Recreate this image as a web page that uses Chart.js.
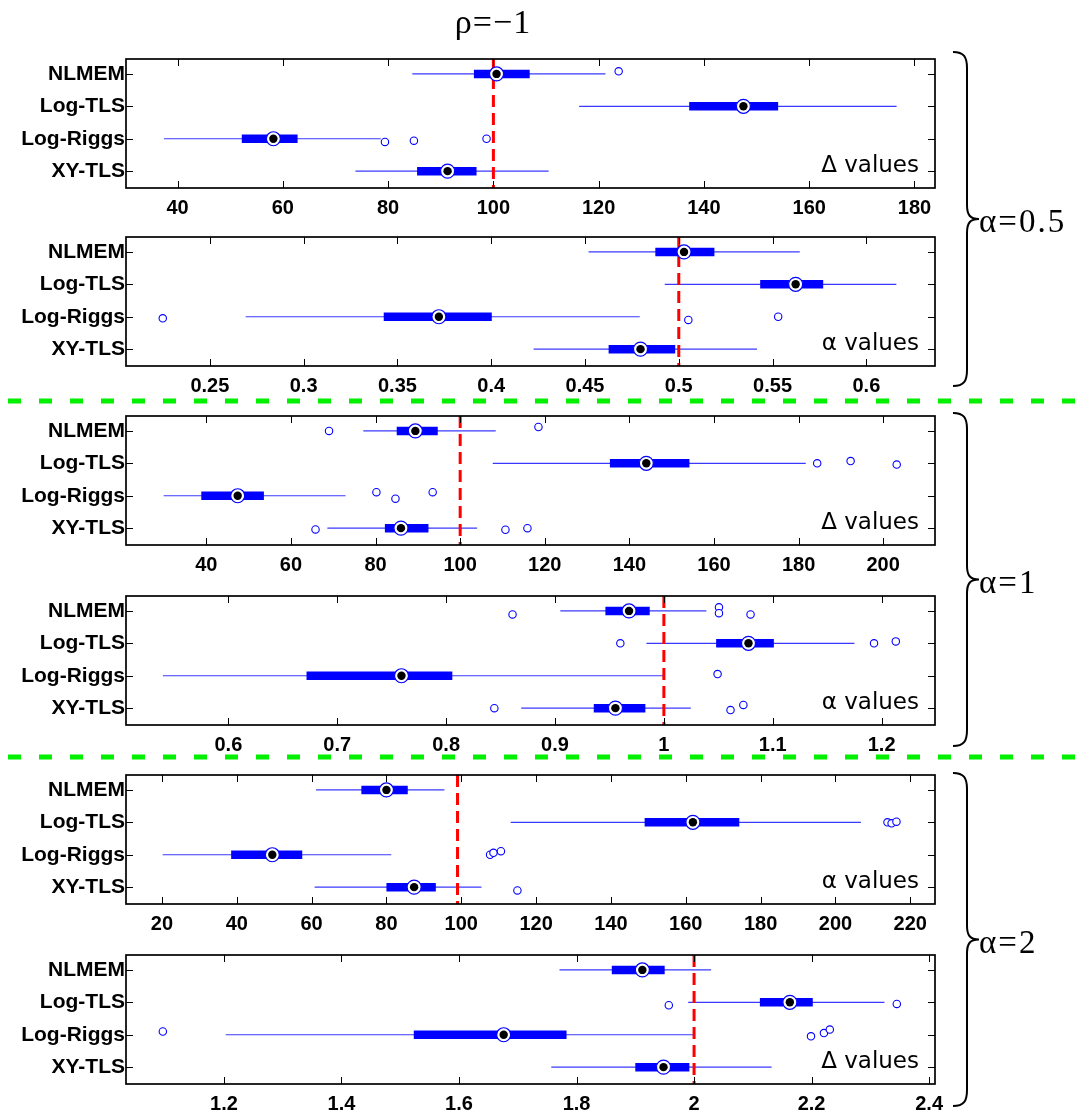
<!DOCTYPE html>
<html>
<head>
<meta charset="utf-8">
<title>rho = -1 box plots</title>
<script src="https://cdn.jsdelivr.net/npm/chart.js@4.4.1/dist/chart.umd.min.js"></script>
<style>
  html, body { margin: 0; padding: 0; background: #fff; }
  #page { position: relative; width: 1075px; height: 1118px; overflow: hidden; }
  #page canvas { position: absolute; left: 0; }
  #deco { position: absolute; left: 0; top: 0; }
  .txt { position: absolute; white-space: nowrap; color: #000; line-height: 1; }
  .title { font-family: "Liberation Serif", serif; font-size: 34px; letter-spacing: 1px; transform: translate(-50%, -50%); }
  .group { font-family: "Liberation Serif", serif; font-size: 33px; letter-spacing: 2px; transform: translateY(-50%); }
  .vals { font-family: "DejaVu Sans", sans-serif; font-size: 23px; line-height: 23px; }
</style>
</head>
<body>
<div id="page">
  <svg id="deco" width="1075" height="1118"></svg>
</div>
<script>
const methods = ["NLMEM", "Log-TLS", "Log-Riggs", "XY-TLS"];

// per method: [whisker low, q1, median, q3, whisker high]
const a05Top = [
  [84.6, 96.3, 100.6, 106.9, 121.3],
  [116.3, 137.2, 147.5, 154.1, 176.6],
  [37.4, 52.2, 58.2, 62.8, 78.6],
  [73.8, 85.5, 91.3, 96.8, 110.5]
];
const a05Bottom = [
  [0.4519, 0.4875, 0.5028, 0.519, 0.5645],
  [0.4925, 0.5434, 0.5623, 0.577, 0.616],
  [0.2691, 0.3427, 0.3721, 0.4003, 0.4792],
  [0.4226, 0.4626, 0.4796, 0.4981, 0.5417]
];
const a1Top = [
  [77.1, 85.0, 89.4, 94.7, 108.4],
  [107.7, 135.4, 144.0, 154.2, 181.7],
  [29.9, 38.8, 47.4, 53.6, 72.9],
  [68.6, 82.2, 86.0, 92.5, 104.0]
];
const a1Bottom = [
  [0.9049, 0.9463, 0.968, 0.987, 1.039],
  [0.984, 1.048, 1.0777, 1.101, 1.175],
  [0.5399, 0.6718, 0.759, 0.8057, 1.0],
  [0.869, 0.9356, 0.9555, 0.983, 1.0247]
];
const a2Top = [
  [61.2, 73.3, 80.0, 85.7, 95.5],
  [113.2, 149.0, 161.9, 174.3, 206.8],
  [20.2, 38.5, 49.5, 57.5, 81.3],
  [60.8, 80.0, 87.4, 93.2, 105.4]
];
const a2Bottom = [
  [1.771, 1.860, 1.912, 1.950, 2.029],
  [1.99, 2.112, 2.163, 2.202, 2.324],
  [1.203, 1.523, 1.676, 1.783, 2.0],
  [1.757, 1.900, 1.948, 1.992, 2.132]
];

// outliers: [value, method index, vertical jitter in rows]
const a05TopOut = [[123.8, 0, -0.08], [79.4, 2, 0.1], [84.9, 2, 0.06], [98.7, 2, 0]];
const a05BottomOut = [[0.2249, 2, 0.05], [0.5051, 2, 0.1], [0.553, 2, 0]];
const a1TopOut = [[69.0, 0, 0], [118.5, 0, -0.12], [184.4, 1, 0], [192.3, 1, -0.07], [203.2, 1, 0.04],
  [80.2, 2, -0.11], [84.7, 2, 0.09], [93.5, 2, -0.11], [65.8, 3, 0.04], [110.7, 3, 0.05], [115.9, 3, 0]];
const a1BottomOut = [[0.861, 0, 0.11], [1.0506, 0, -0.11], [1.0506, 0, 0.07], [1.0796, 0, 0.11],
  [0.96, 1, 0], [1.193, 1, 0], [1.213, 1, -0.06], [1.0493, 2, -0.05],
  [0.8443, 3, 0], [1.0612, 3, 0.06], [1.073, 3, -0.1]];
const a2TopOut = [[213.9, 1, 0], [215.0, 1, 0.03], [216.3, 1, -0.02], [107.7, 2, 0], [108.6, 2, -0.06],
  [110.6, 2, -0.11], [115.0, 3, 0.1]];
const a2BottomOut = [[1.957, 1, 0.09], [2.345, 1, 0.05], [1.096, 2, -0.1], [2.199, 2, 0.05],
  [2.221, 2, -0.05], [2.231, 2, -0.16]];

const ticksA05Top = [40, 60, 80, 100, 120, 140, 160, 180];
const ticksA05Bottom = [0.25, 0.3, 0.35, 0.4, 0.45, 0.5, 0.55, 0.6];
const ticksA1Top = [40, 60, 80, 100, 120, 140, 160, 180, 200];
const ticksA1Bottom = [0.6, 0.7, 0.8, 0.9, 1, 1.1, 1.2];
const ticksA2Top = [20, 40, 60, 80, 100, 120, 140, 160, 180, 200, 220];
const ticksA2Bottom = [1.2, 1.4, 1.6, 1.8, 2, 2.2, 2.4];

const refValues = [100, 0.5, 100, 1, 99, 2];
const valueLabels = ["\u0394 values", "\u03b1 values", "\u0394 values", "\u03b1 values", "\u03b1 values", "\u0394 values"];
const groupLabels = ["\u03b1=0.5", "\u03b1=1", "\u03b1=2"];
const titleText = "\u03c1=\u22121";

const page = document.getElementById('page');
const deco = document.getElementById('deco');
const BLUE = '#0000ff';
const PAD_TOP = 14, FRAME_H = 129, AXIS_H = 36, LEFT = 126, RIGHT = 935, TICK = 7;
const Y_MIN = -0.46, Y_MAX = 3.52;

const panels = [
  { boxes: a05Top, out: a05TopOut, ticks: ticksA05Top, top: 59, min: 30.2, max: 183.9 },
  { boxes: a05Bottom, out: a05BottomOut, ticks: ticksA05Bottom, top: 237, min: 0.2053, max: 0.6366 },
  { boxes: a1Top, out: a1TopOut, ticks: ticksA1Top, top: 416, min: 21.0, max: 212.25 },
  { boxes: a1Bottom, out: a1BottomOut, ticks: ticksA1Bottom, top: 596, min: 0.506, max: 1.249 },
  { boxes: a2Top, out: a2TopOut, ticks: ticksA2Top, top: 775, min: 10.4, max: 226.6 },
  { boxes: a2Bottom, out: a2BottomOut, ticks: ticksA2Bottom, top: 955, min: 1.0333, max: 2.41 }
];

// box frame with inward ticks on all four sides
const framePlugin = {
  id: 'frame',
  afterDraw(chart) {
    const { ctx, chartArea: a, scales: { x, y } } = chart;
    ctx.save();
    ctx.strokeStyle = '#000';
    ctx.lineWidth = 1;
    ctx.beginPath();
    x.ticks.forEach(t => {
      const px = Math.round(x.getPixelForValue(t.value)) + 0.5;
      ctx.moveTo(px, a.top); ctx.lineTo(px, a.top + TICK);
      ctx.moveTo(px, a.bottom); ctx.lineTo(px, a.bottom - TICK);
    });
    y.ticks.forEach(t => {
      const py = Math.round(y.getPixelForValue(t.value)) + 0.5;
      ctx.moveTo(a.left, py); ctx.lineTo(a.left + TICK, py);
      ctx.moveTo(a.right, py); ctx.lineTo(a.right - TICK, py);
    });
    ctx.stroke();
    ctx.lineWidth = 1.7;
    ctx.strokeRect(a.left, a.top, a.right - a.left, a.bottom - a.top);
    ctx.restore();
  }
};

function addText(cls, text, css) {
  const d = document.createElement('div');
  d.className = 'txt ' + cls;
  d.textContent = text;
  Object.assign(d.style, css);
  page.appendChild(d);
}

panels.forEach((p, i) => {
  const cv = document.createElement('canvas');
  cv.width = 1075;
  cv.height = PAD_TOP + FRAME_H + AXIS_H;
  cv.style.top = (p.top - PAD_TOP) + 'px';
  page.insertBefore(cv, deco);

  const medians = p.boxes.map((b, k) => ({ x: b[2], y: k }));
  const datasets = [
    { data: medians, pointRadius: 4.2, pointBackgroundColor: '#000', pointBorderWidth: 0 },
    { data: medians, pointRadius: 7, pointBackgroundColor: '#fff', pointBorderColor: BLUE, pointBorderWidth: 1.2 },
    { data: p.out.map(o => ({ x: o[0], y: o[1] + o[2] })), pointRadius: 3.7,
      pointBackgroundColor: '#fff', pointBorderColor: BLUE, pointBorderWidth: 1.1 },
    { data: [{ x: refValues[i], y: Y_MIN }, { x: refValues[i], y: Y_MAX }], showLine: true,
      borderColor: '#ff0000', borderWidth: 3, borderDash: [12, 6], pointRadius: 0 }
  ];
  p.boxes.forEach((b, k) => datasets.push({
    data: [{ x: b[1], y: k }, { x: b[3], y: k }], showLine: true,
    borderColor: BLUE, borderWidth: 8.5, borderCapStyle: 'butt', pointRadius: 0
  }));
  p.boxes.forEach((b, k) => datasets.push({
    data: [{ x: b[0], y: k }, { x: b[4], y: k }], showLine: true,
    borderColor: '#3a3aff', borderWidth: 1.2, pointRadius: 0
  }));

  new Chart(cv, {
    type: 'scatter',
    data: { datasets },
    options: {
      responsive: false,
      animation: false,
      devicePixelRatio: 1,
      events: [],
      layout: { padding: { top: PAD_TOP, right: 1075 - RIGHT, left: 0, bottom: 0 } },
      plugins: { legend: { display: false }, tooltip: { enabled: false } },
      scales: {
        x: {
          type: 'linear', min: p.min, max: p.max,
          grid: { display: false, drawTicks: false },
          border: { display: false },
          afterBuildTicks: s => { s.ticks = p.ticks.map(v => ({ value: v })); },
          afterFit: s => { s.height = AXIS_H; },
          ticks: {
            autoSkip: false, maxRotation: 0, padding: 8, color: '#000',
            font: { family: 'Liberation Sans', size: 20, weight: 'bold' },
            callback: v => String(+v.toFixed(3))
          }
        },
        y: {
          type: 'linear', reverse: true, min: Y_MIN, max: Y_MAX,
          grid: { display: false, drawTicks: false },
          border: { display: false },
          afterBuildTicks: s => { s.ticks = methods.map((m, k) => ({ value: k })); },
          afterFit: s => { s.width = LEFT; },
          ticks: {
            autoSkip: false, padding: 1, color: '#000',
            font: { family: 'Liberation Sans', size: 21, weight: 'bold' },
            callback: v => methods[v]
          }
        }
      }
    },
    plugins: [framePlugin]
  });

  // "Δ values" / "α values" in the lower right corner of each frame
  addText('vals', valueLabels[i], { right: (1075 - 919) + 'px', top: (p.top + 113 - 19.4) + 'px' });
});

// title
addText('title', titleText, { left: '493px', top: '22px' });

// green separators and braces
const NS = 'http://www.w3.org/2000/svg';
[401, 757].forEach(y => {
  const l = document.createElementNS(NS, 'line');
  l.setAttribute('x1', 8); l.setAttribute('x2', 1075);
  l.setAttribute('y1', y); l.setAttribute('y2', y);
  l.setAttribute('stroke', '#00f000');
  l.setAttribute('stroke-width', 5);
  l.setAttribute('stroke-dasharray', '13 18');
  deco.appendChild(l);
});

const braces = [[52, 386], [413, 746], [773, 1106]];
braces.forEach(([y0, y1], g) => {
  const ym = (y0 + y1) / 2, xe = 953, xb = 967, xt = 979;
  const d = `M${xe},${y0} C${xb - 3},${y0} ${xb},${y0 + 5} ${xb},${y0 + 16} L${xb},${ym - 14} ` +
    `C${xb},${ym - 4} ${xb + 3},${ym} ${xt},${ym} C${xb + 3},${ym} ${xb},${ym + 4} ${xb},${ym + 14} ` +
    `L${xb},${y1 - 16} C${xb},${y1 - 5} ${xb - 3},${y1} ${xe},${y1}`;
  const path = document.createElementNS(NS, 'path');
  path.setAttribute('d', d);
  path.setAttribute('fill', 'none');
  path.setAttribute('stroke', '#000');
  path.setAttribute('stroke-width', 2);
  deco.appendChild(path);
  addText('group', groupLabels[g], { left: '979px', top: (ym + 2) + 'px' });
});
</script>
</body>
</html>
